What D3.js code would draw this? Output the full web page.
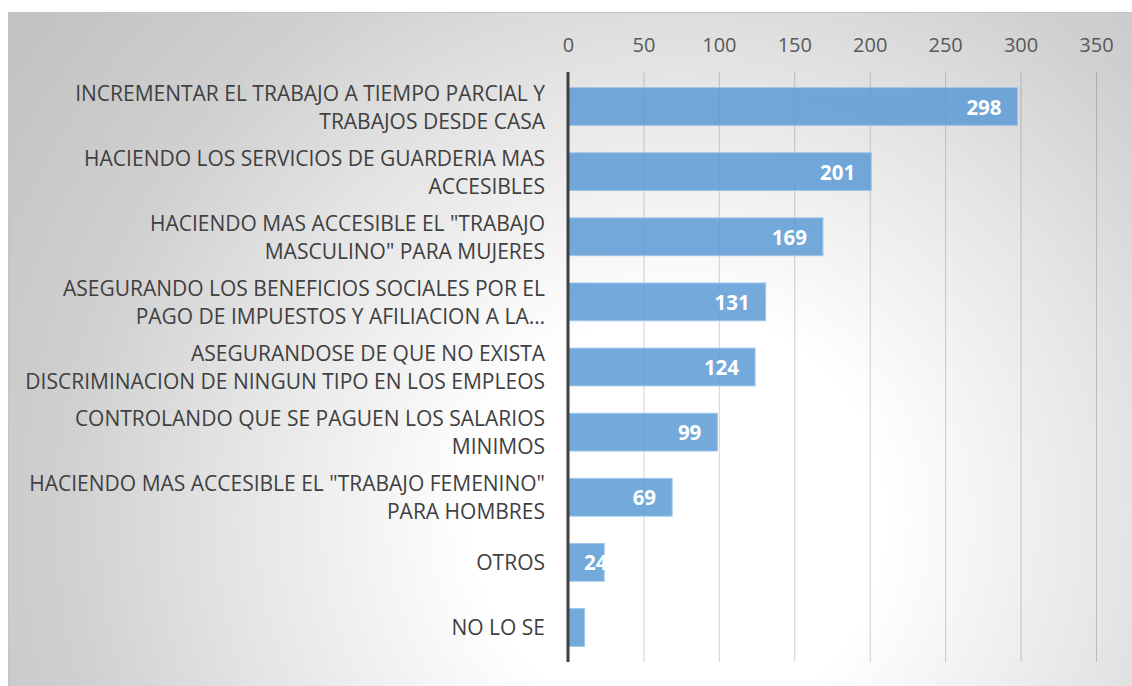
<!DOCTYPE html>
<html>
<head>
<meta charset="utf-8">
<script src="https://cdn.jsdelivr.net/npm/d3@7"></script>
<style>
  body { margin: 0; background: #fff; }
  svg { display: block; font-family: "Open Sans", "Noto Sans", sans-serif; }
</style>
</head>
<body>
<svg id="chart" width="1132" height="686"></svg>
<script>
// categories, wrapped lines separated by "|"
const categories = [
  "INCREMENTAR EL TRABAJO A TIEMPO PARCIAL Y|TRABAJOS DESDE CASA",
  "HACIENDO LOS SERVICIOS DE GUARDERIA MAS|ACCESIBLES",
  "HACIENDO MAS ACCESIBLE EL \"TRABAJO|MASCULINO\" PARA MUJERES",
  "ASEGURANDO LOS BENEFICIOS SOCIALES POR EL|PAGO DE IMPUESTOS Y AFILIACION A LA…",
  "ASEGURANDOSE DE QUE NO EXISTA|DISCRIMINACION DE NINGUN TIPO EN LOS EMPLEOS",
  "CONTROLANDO QUE SE PAGUEN LOS SALARIOS|MINIMOS",
  "HACIENDO MAS ACCESIBLE EL \"TRABAJO FEMENINO\"|PARA HOMBRES",
  "OTROS",
  "NO LO SE"
];
const values = [298, 201, 169, 131, 124, 99, 69, 24, 11];
const tickValues = [0, 50, 100, 150, 200, 250, 300, 350];

const svg = d3.select("#chart");
const W = 1132, H = 686;

// background with radial gradient
const defs = svg.append("defs");
const grad = defs.append("radialGradient")
    .attr("id", "bg")
    .attr("gradientUnits", "userSpaceOnUse")
    .attr("cx", 680).attr("cy", 520).attr("r", 820);
[[0, "#ffffff"], [0.25, "#ffffff"], [0.55, "#e4e4e4"], [0.75, "#d0d0d0"], [1, "#c2c2c2"]]
  .forEach(([o, c]) => grad.append("stop").attr("offset", o).attr("stop-color", c));

svg.append("rect")
    .attr("x", 8.5).attr("y", 12.5)
    .attr("width", W - 8).attr("height", H - 12)
    .attr("fill", "url(#bg)")
    .attr("stroke", "#c4c4c4");

const x = d3.scaleLinear().domain([0, 350]).range([568, 1096]);
const y = d3.scaleBand()
    .domain(d3.range(categories.length))
    .range([72, 662])
    .paddingInner(0.42)
    .paddingOuter(0.24);

// gridlines
svg.append("g")
    .attr("transform", "translate(0,72)")
    .call(d3.axisBottom(x).tickValues(tickValues).tickSize(590).tickFormat(""))
    .call(g => g.select(".domain").remove())
    .call(g => g.selectAll("line").attr("stroke", "#000").attr("stroke-opacity", 0.18));

// tick labels on top
svg.append("g")
    .attr("transform", "translate(0,52)")
    .call(d3.axisTop(x).tickValues(tickValues).tickSize(0).tickPadding(0))
    .call(g => g.select(".domain").remove())
    .call(g => g.selectAll("text")
        .attr("font-family", "'Open Sans', 'Noto Sans', sans-serif")
        .attr("font-size", 20)
        .attr("fill", "#595959"));

// bars
svg.append("g").selectAll("rect")
  .data(values)
  .join("rect")
    .attr("x", x(0))
    .attr("y", (d, i) => y(i))
    .attr("width", d => x(d) - x(0))
    .attr("height", y.bandwidth())
    .attr("fill", "#5b9bd5")
    .attr("fill-opacity", 0.85)
    .attr("stroke", "#9fc5ea")
    .attr("stroke-width", 1);

// category axis line
svg.append("line")
    .attr("x1", x(0)).attr("x2", x(0))
    .attr("y1", 72).attr("y2", 662)
    .attr("stroke", "#404040")
    .attr("stroke-width", 3);

// category labels
const lab = svg.append("g").selectAll("text")
  .data(categories)
  .join("text")
    .attr("text-anchor", "end")
    .attr("font-size", 21)
    .attr("fill", "#404040")
    .attr("dominant-baseline", "central");
lab.each(function (d, i) {
  const lines = d.split("|");
  const cy = y(i) + y.bandwidth() / 2;
  const t = d3.select(this);
  lines.forEach((s, j) => {
    t.append("tspan")
      .attr("x", 545)
      .attr("y", cy + (j - (lines.length - 1) / 2) * 28)
      .text(s);
  });
});

// value labels, inside end
svg.append("g").selectAll("text")
  .data(values)
  .join("text")
    .attr("y", (d, i) => y(i) + y.bandwidth() / 2)
    .attr("dominant-baseline", "central")
    .attr("font-size", 20.5)
    .attr("font-weight", "bold")
    .attr("fill", "#ffffff")
    .text(d => d)
    .each(function (d) {
      const w = this.getComputedTextLength();
      const xr = Math.max(x(d) - 16, x(0) + 16 + w);
      d3.select(this).attr("x", xr).attr("text-anchor", "end");
    });
</script>
</body>
</html>
